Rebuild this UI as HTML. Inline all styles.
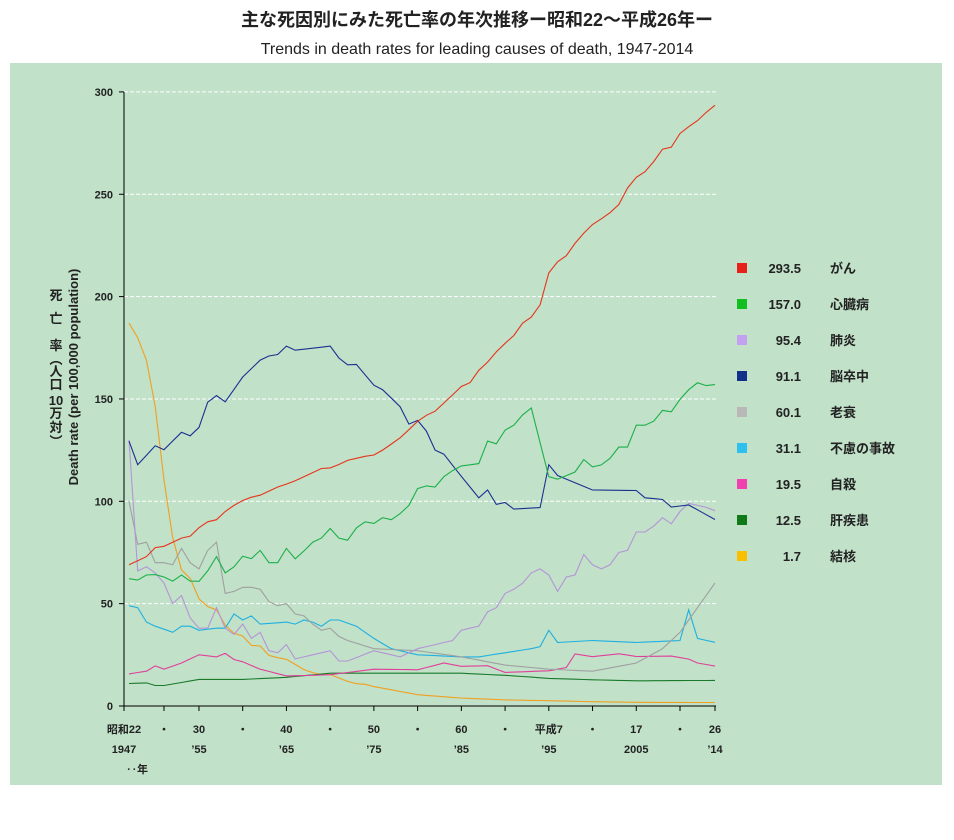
<!DOCTYPE html>
<html><head><meta charset="utf-8">
<style>
body{margin:0;background:#fff;width:954px;height:835px;overflow:hidden;font-family:"Liberation Sans","Noto Sans CJK JP",sans-serif;}
</style></head>
<body>
<svg id="s" width="954" height="835" xmlns="http://www.w3.org/2000/svg" font-family="Liberation Sans, Noto Sans CJK JP, sans-serif">
<text x="477" y="26" text-anchor="middle" font-size="18" font-weight="bold" fill="#222">主な死因別にみた死亡率の年次推移ー昭和22〜平成26年ー</text>
<text x="477" y="54" text-anchor="middle" font-size="16" fill="#222">Trends in death rates for leading causes of death, 1947-2014</text>
<rect x="10" y="63" width="932" height="722" fill="#c1e1c9"/>
<g id="g"></g>
</svg>
<script>
var g=document.getElementById('g');var NS="http://www.w3.org/2000/svg";
function el(t,a,txt){var e=document.createElementNS(NS,t);for(var k in a)e.setAttribute(k,a[k]);if(txt!=null)e.textContent=txt;g.appendChild(e);return e;}
function X(yr){return 129+(yr-1947)*8.746;}
function Y(v){return 706-v*2.047;}
for(var v=50;v<=300;v+=50){el('line',{x1:124,x2:716,y1:Y(v),y2:Y(v),stroke:'#fff','stroke-dasharray':'4,2','stroke-width':1});}
for(var v=0;v<=300;v+=50){el('text',{x:113,y:Y(v)+4,'text-anchor':'end','font-size':11,'font-weight':'bold',fill:'#222'},v);el('line',{x1:119,x2:124,y1:Y(v),y2:Y(v),stroke:'#000'});}
el('line',{x1:124,x2:124,y1:92,y2:706,stroke:'#000'});
el('line',{x1:124,x2:716,y1:706,y2:706,stroke:'#000'});
var xl=[[1947,'昭和22','1947'],[1951,'・',''],[1955,'30','’55'],[1960,'・',''],[1965,'40','’65'],[1970,'・',''],[1975,'50','’75'],[1980,'・',''],[1985,'60','’85'],[1990,'・',''],[1995,'平成7','’95'],[2000,'・',''],[2005,'17','2005'],[2010,'・',''],[2014,'26','’14']];
xl.forEach(function(a){var x=X(a[0]);if(a[0]==1947)x=124;if(a[0]==2014)x=715;el('line',{x1:x,x2:x,y1:706,y2:711,stroke:'#000'});
el('text',{x:x,y:733,'text-anchor':'middle','font-size':11,'font-weight':'bold',fill:'#222'},a[1]);
if(a[2])el('text',{x:x,y:753,'text-anchor':'middle','font-size':11,'font-weight':'bold',fill:'#222'},a[2]);});
el('text',{x:126,y:773,'font-size':11,'font-weight':'bold',fill:'#222'},'‥年');
[['死',300],['亡',323],['率',350],['︵',364],['人',376],['口',389],['10',405],['万',418],['対',432],['︶',446]].forEach(function(a){el('text',{x:56,y:a[1],'font-size':13,'font-weight':'bold',fill:'#222','text-anchor':'middle'},a[0]);});
el('text',{x:0,y:0,'font-size':13,'font-weight':'bold',fill:'#222','text-anchor':'middle',transform:'translate(78,377) rotate(-90)'},'Death rate (per 100,000 population)');
function interp(pts){var o=[];for(var y=1947;y<=2014;y++){for(var i=0;i<pts.length-1;i++){if(y>=pts[i][0]&&y<=pts[i+1][0]){var t=(y-pts[i][0])/(pts[i+1][0]-pts[i][0]||1);o.push([y,pts[i][1]+t*(pts[i+1][1]-pts[i][1])]);break;}}}return o;}
function P(a){var r=[];for(var i=0;i<a.length;i+=2)r.push([a[i],a[i+1]]);return r;}
var S=[
['#f0a020',P([1947,187,1948,179.9,1949,168.8,1950,146.4,1951,110.3,1952,82.2,1953,66.5,1954,62.4,1955,52.3,1956,48.6,1957,46.9,1958,39.5,1959,35.5,1960,34.2,1961,29.6,1962,29.3,1963,24.7,1964,23.6,1965,22.8,1966,20.3,1967,17.8,1968,16.3,1969,15.4,1970,15.4,1971,13.7,1972,12,1973,10.9,1974,10.6,1975,9.5,1980,5.5,1985,3.9,1990,3,1995,2.6,2000,2.1,2005,1.8,2014,1.7])],
['#1a7a2a',P([1947,11,1949,11.3,1950,10,1951,10,1955,13,1960,13,1965,14,1970,16,1975,16,1980,16,1985,16,1990,15,1995,13.5,2000,12.8,2005,12.3,2014,12.5])],
['#e0409a',P([1947,15.7,1949,17,1950,19.6,1951,18,1953,21,1954,23,1955,25,1957,24,1958,25.7,1959,22.7,1960,21.6,1962,18,1965,14.7,1968,15,1970,15.3,1975,18,1980,17.7,1983,21,1985,19.4,1988,19.7,1990,16.4,1995,17.2,1997,18.8,1998,25.4,2000,24.1,2003,25.5,2005,24.2,2009,24.4,2011,22.9,2012,21,2014,19.5])],
['#1fb0e0',P([1947,49,1948,48,1949,41,1950,39,1952,36,1953,39,1954,39,1955,37,1957,38,1958,38,1959,45,1960,42,1961,44,1962,40,1965,41,1966,40,1967,42,1968,41,1969,39,1970,42,1971,42,1973,39,1974,36,1975,33,1977,28,1980,25,1985,24,1987,24,1990,26,1993,28,1994,29,1995,37,1996,31,2000,32,2005,31,2010,32,2011,47,2012,33,2014,31.1])],
['#a0a0a0',P([1947,100,1948,79,1949,80,1950,70,1951,70,1952,69,1953,77,1954,70,1955,67,1956,76,1957,80,1958,55,1959,56,1960,58,1961,58,1962,57,1963,51,1964,49,1965,50,1966,45,1967,44,1968,40,1969,37,1970,38,1971,34,1972,32,1975,28,1980,27,1985,24,1990,20,1995,18,2000,17,2005,21,2008,28,2010,36,2012,48,2014,60.1])],
['#b594d6',P([1947,130,1948,66,1949,68,1950,65,1951,60,1952,50,1953,54,1954,43,1955,38,1956,38,1957,48,1958,38,1959,35,1960,40,1961,33,1962,36,1963,27,1964,26,1965,30,1966,23,1967,24,1968,25,1970,27,1971,22,1972,22,1975,27,1978,24,1980,28,1983,31,1984,32,1985,37,1987,39,1988,46,1989,48,1990,55,1991,57,1992,60,1993,65,1994,67,1995,64,1996,56,1997,63,1998,64,1999,74,2000,69,2001,67,2002,69,2003,75,2004,76,2005,85,2006,85,2007,88,2008,92,2009,89,2010,95,2011,99,2012,98,2013,97,2014,95.4])],
['#1a3090',P([1947,129.4,1948,117.9,1950,127.1,1951,125.2,1953,133.7,1954,132,1955,136.1,1956,148.4,1957,151.7,1958,148.6,1960,160.7,1962,169,1963,171,1964,171.7,1965,175.8,1966,173.8,1970,175.8,1971,170,1972,166.7,1973,166.9,1975,156.7,1976,154.5,1978,146.2,1979,137.7,1980,139.5,1981,134.3,1982,125,1983,123,1985,112.2,1987,101.7,1988,105.5,1989,98.5,1990,99.4,1991,96.2,1994,96.9,1995,117.9,1996,112.6,2000,105.5,2005,105.3,2006,101.7,2008,100.9,2009,97.2,2011,98.2,2014,91.1])],
['#1cb04a',P([1947,62.2,1948,61.5,1949,64,1950,64.2,1951,63,1952,61,1953,64,1954,61,1955,60.9,1956,66,1957,73,1958,65,1959,68,1960,73.2,1961,72,1962,76,1963,70,1964,70,1965,77,1966,71.9,1967,75.7,1968,80,1969,82,1970,86.7,1971,82,1972,81,1973,87,1974,90,1975,89.2,1976,92,1977,91,1978,94,1979,98,1980,106.2,1981,107.5,1982,107,1983,112,1984,115,1985,117.3,1987,118.4,1988,129.4,1989,128.1,1990,134.8,1991,137.2,1992,142.2,1993,145.6,1994,128.6,1995,112,1996,110.8,1998,114.3,1999,120.4,2000,116.8,2001,117.8,2002,121,2003,126.5,2004,126.5,2005,137.2,2006,137.2,2007,139.2,2008,144.4,2009,143.7,2010,149.8,2011,154.5,2012,157.9,2013,156.5,2014,157])],
['#e8341c',P([1947,69,1948,71,1949,73,1950,77.4,1951,78,1952,80,1953,82,1954,83,1955,87.1,1956,90,1957,91,1958,95,1959,98,1960,100.4,1961,102,1962,103,1963,105,1964,107,1965,108.4,1966,110,1967,112,1968,114,1969,116,1970,116.3,1971,118,1972,120,1973,121,1974,122,1975,122.6,1976,125,1977,128,1978,131,1979,135,1980,139.1,1981,142,1982,144,1983,148,1984,152,1985,156.1,1986,158,1987,164,1988,168,1989,173,1990,177.2,1991,181,1992,187,1993,190,1994,196,1995,211.6,1996,217,1997,220,1998,226,1999,231,2000,235.2,2001,238,2002,241,2003,245,2004,253,2005,258.3,2006,261,2007,266,2008,272,2009,273,2010,279.7,2011,283,2012,286,2013,290,2014,293.5])]
];
S.forEach(function(s){var d=interp(s[1]).map(function(p,i){return (i?'L':'M')+X(p[0]).toFixed(1)+','+Y(p[1]).toFixed(1);}).join('');el('path',{d:d,fill:'none',stroke:s[0],'stroke-width':1.1});});
var L=[['#e8201c','293.5','がん'],['#10c020','157.0','心臓病'],['#c3a0f0','95.4','肺炎'],['#10308a','91.1','脳卒中'],['#b8b8b8','60.1','老衰'],['#30c0f0','31.1','不慮の事故'],['#f040b0','19.5','自殺'],['#107a18','12.5','肝疾患'],['#f8c000','1.7','結核']];
L.forEach(function(a,i){var y=268+i*36;el('rect',{x:737,y:y-5,width:10,height:10,fill:a[0]});
el('text',{x:801,y:y+5,'text-anchor':'end','font-size':13,'font-weight':'bold',fill:'#222'},a[1]);
el('text',{x:830,y:y+5,'font-size':13,'font-weight':'bold',fill:'#222'},a[2]);});
</script>
</body></html>
